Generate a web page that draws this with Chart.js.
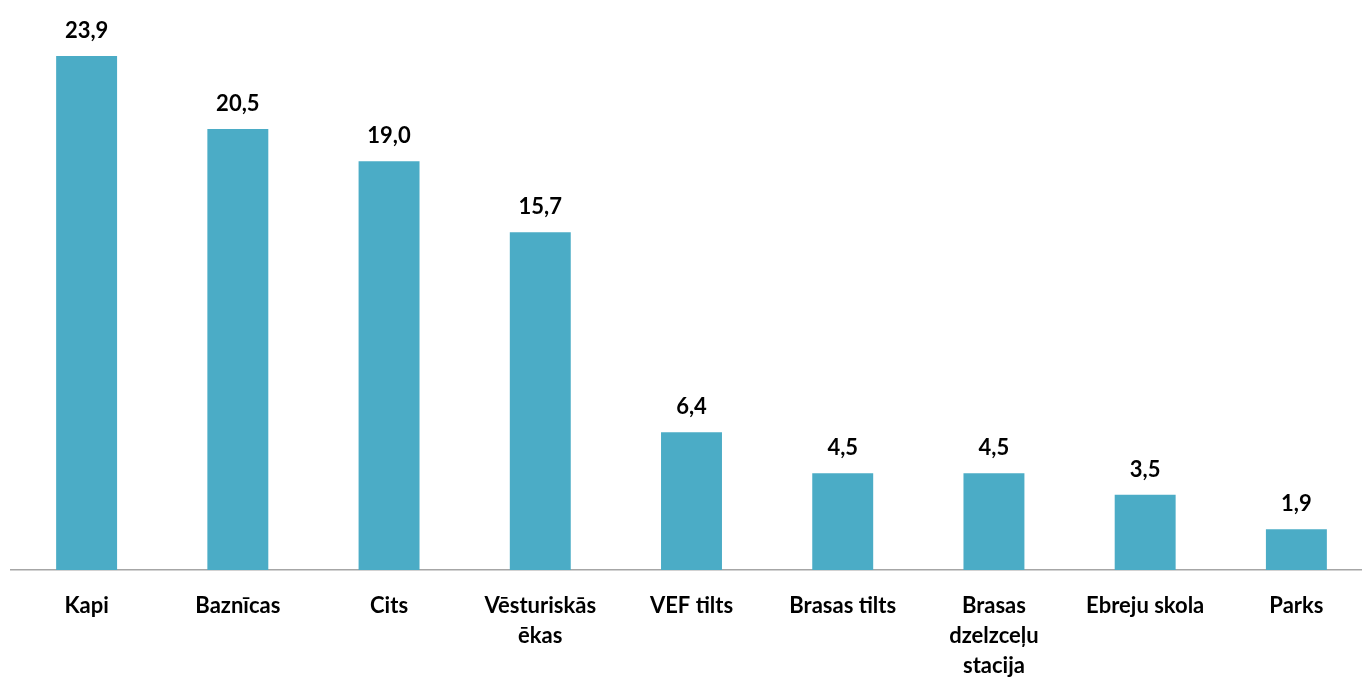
<!DOCTYPE html>
<html>
<head>
<meta charset="utf-8">
<script src="https://cdn.jsdelivr.net/npm/chart.js@4"></script>
<style>
  html, body { margin: 0; padding: 0; background: #fff; overflow: hidden; }
  #wrap { width: 1372px; height: 682px; }
</style>
</head>
<body>
<div id="wrap"><canvas id="chart"></canvas></div>
<script>
var categories = [
  "Kapi",
  "Baznīcas",
  "Cits",
  ["Vēsturiskās", "ēkas"],
  "VEF tilts",
  "Brasas tilts",
  ["Brasas", "dzelzceļu", "stacija"],
  "Ebreju skola",
  "Parks"
];
var values = [23.9, 20.5, 19.0, 15.7, 6.4, 4.5, 4.5, 3.5, 1.9];

var barColor = "#4BACC6";
var fontFamily = "Lato, 'Open Sans', sans-serif";

function fmt(v) {
  return v.toFixed(1).replace(".", ",");
}

// value labels above the bars
var valueLabels = {
  id: "valueLabels",
  afterDatasetsDraw: function (chart) {
    var ctx = chart.ctx;
    var meta = chart.getDatasetMeta(0);
    ctx.save();
    ctx.font = "bold 22px " + fontFamily;
    ctx.fillStyle = "#000";
    ctx.textAlign = "center";
    ctx.textBaseline = "alphabetic";
    meta.data.forEach(function (bar, i) {
      ctx.fillText(fmt(values[i]), bar.x, bar.y - 18);
    });
    ctx.restore();
  }
};

new Chart(document.getElementById("chart"), {
  type: "bar",
  data: {
    labels: categories,
    datasets: [{
      data: values,
      backgroundColor: barColor,
      borderWidth: 0,
      categoryPercentage: 1,
      barPercentage: 0.403
    }]
  },
  options: {
    responsive: true,
    maintainAspectRatio: false,
    animation: false,
    layout: { padding: { left: 11, right: 0, top: 0, bottom: 0 } },
    plugins: {
      legend: { display: false },
      tooltip: { enabled: false }
    },
    scales: {
      x: {
        grid: { display: false, drawTicks: false },
        border: { display: true, color: "#A6A6A6", width: 1.5 },
        ticks: {
          color: "#000",
          padding: 21,
          maxRotation: 0,
          autoSkip: false,
          font: { family: fontFamily, size: 22, weight: "bold", lineHeight: 1.36 }
        },
        afterFit: function (s) { s.height = 112; }
      },
      y: {
        display: false,
        min: 0,
        max: 26.5
      }
    }
  },
  plugins: [valueLabels]
});
</script>
</body>
</html>
